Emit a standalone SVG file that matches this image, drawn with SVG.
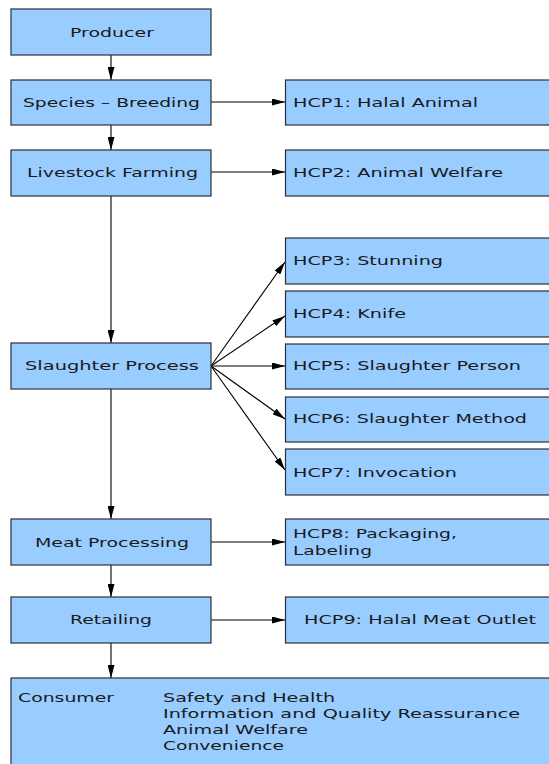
<svg xmlns="http://www.w3.org/2000/svg" width="549" height="764" viewBox="0 0 549 764">
<style>
.box{fill:#99ccff;stroke:#2a2f38;stroke-width:1.2}
text{font-family:"DejaVu Sans","Liberation Sans",sans-serif;font-size:13px;fill:#1a1a1a}
.c{stroke:#000;stroke-width:1.1;fill:none}
</style>
<defs>
<marker id="ah" viewBox="0 0 13 7" refX="13" refY="3.5" markerWidth="13" markerHeight="7" markerUnits="userSpaceOnUse" orient="auto">
<path d="M0,0 L13,3.5 L0,7 z" fill="#000"/>
</marker>
</defs>
<rect width="549" height="764" fill="#fff"/>
<g id="connectors">
<line class="c" x1="111" y1="55" x2="111" y2="80" marker-end="url(#ah)"/>
<line class="c" x1="111" y1="125" x2="111" y2="150" marker-end="url(#ah)"/>
<line class="c" x1="111" y1="196" x2="111" y2="343" marker-end="url(#ah)"/>
<line class="c" x1="111" y1="389" x2="111" y2="519" marker-end="url(#ah)"/>
<line class="c" x1="111" y1="565" x2="111" y2="597" marker-end="url(#ah)"/>
<line class="c" x1="111" y1="643" x2="111" y2="678" marker-end="url(#ah)"/>
<line class="c" x1="211" y1="102" x2="285" y2="102" marker-end="url(#ah)"/>
<line class="c" x1="211" y1="172" x2="285" y2="172" marker-end="url(#ah)"/>
<line class="c" x1="211" y1="366" x2="285" y2="262" marker-end="url(#ah)"/>
<line class="c" x1="211" y1="366" x2="285" y2="316" marker-end="url(#ah)"/>
<line class="c" x1="211" y1="366" x2="285" y2="366" marker-end="url(#ah)"/>
<line class="c" x1="211" y1="366" x2="285" y2="419" marker-end="url(#ah)"/>
<line class="c" x1="211" y1="366" x2="285" y2="470" marker-end="url(#ah)"/>
<line class="c" x1="211" y1="542" x2="285" y2="542" marker-end="url(#ah)"/>
<line class="c" x1="211" y1="620" x2="285" y2="620" marker-end="url(#ah)"/>
</g>
<g id="producer"><rect class="box" x="11" y="9" width="200" height="46"/><text x="70" y="36.5" textLength="84" lengthAdjust="spacingAndGlyphs">Producer</text></g>
<g id="species"><rect class="box" x="11" y="80" width="200" height="45"/><text x="23" y="107" textLength="177" lengthAdjust="spacingAndGlyphs">Species – Breeding</text></g>
<g id="livestock"><rect class="box" x="11" y="150" width="200" height="46"/><text x="27" y="177" textLength="171" lengthAdjust="spacingAndGlyphs">Livestock Farming</text></g>
<g id="slaughter"><rect class="box" x="11" y="343" width="200" height="46"/><text x="25" y="370" textLength="174" lengthAdjust="spacingAndGlyphs">Slaughter Process</text></g>
<g id="meat"><rect class="box" x="11" y="519" width="200" height="46"/><text x="35" y="547" textLength="154" lengthAdjust="spacingAndGlyphs">Meat Processing</text></g>
<g id="retailing"><rect class="box" x="11" y="597" width="200" height="46"/><text x="70" y="624" textLength="82" lengthAdjust="spacingAndGlyphs">Retailing</text></g>
<g id="consumer"><rect class="box" x="11" y="678" width="560" height="120"/>
<text x="18" y="702" textLength="96" lengthAdjust="spacingAndGlyphs">Consumer</text>
<text x="163" y="702" textLength="172" lengthAdjust="spacingAndGlyphs">Safety and Health</text>
<text x="163" y="718" textLength="357" lengthAdjust="spacingAndGlyphs">Information and Quality Reassurance</text>
<text x="163" y="734" textLength="145" lengthAdjust="spacingAndGlyphs">Animal Welfare</text>
<text x="163" y="750" textLength="121" lengthAdjust="spacingAndGlyphs">Convenience</text>
</g>
<g id="hcp1"><rect class="box" x="285.5" y="80" width="280" height="45"/><text x="293" y="107" textLength="185" lengthAdjust="spacingAndGlyphs">HCP1: Halal Animal</text></g>
<g id="hcp2"><rect class="box" x="285.5" y="150" width="280" height="46"/><text x="293" y="177" textLength="210" lengthAdjust="spacingAndGlyphs">HCP2: Animal Welfare</text></g>
<g id="hcp3"><rect class="box" x="285.5" y="238" width="280" height="46"/><text x="293" y="265" textLength="150" lengthAdjust="spacingAndGlyphs">HCP3: Stunning</text></g>
<g id="hcp4"><rect class="box" x="285.5" y="291" width="280" height="46"/><text x="293" y="318" textLength="113" lengthAdjust="spacingAndGlyphs">HCP4: Knife</text></g>
<g id="hcp5"><rect class="box" x="285.5" y="344" width="280" height="45"/><text x="293" y="370" textLength="228" lengthAdjust="spacingAndGlyphs">HCP5: Slaughter Person</text></g>
<g id="hcp6"><rect class="box" x="285.5" y="397" width="280" height="45"/><text x="293" y="423" textLength="234" lengthAdjust="spacingAndGlyphs">HCP6: Slaughter Method</text></g>
<g id="hcp7"><rect class="box" x="285.5" y="449" width="280" height="46"/><text x="293" y="477" textLength="164" lengthAdjust="spacingAndGlyphs">HCP7: Invocation</text></g>
<g id="hcp8"><rect class="box" x="285.5" y="519" width="280" height="46"/><text x="293" y="538" textLength="164" lengthAdjust="spacingAndGlyphs">HCP8: Packaging,</text><text x="293" y="555" textLength="79" lengthAdjust="spacingAndGlyphs">Labeling</text></g>
<g id="hcp9"><rect class="box" x="285.5" y="597" width="280" height="46"/><text x="304" y="624" textLength="232" lengthAdjust="spacingAndGlyphs">HCP9: Halal Meat Outlet</text></g>
</svg>
